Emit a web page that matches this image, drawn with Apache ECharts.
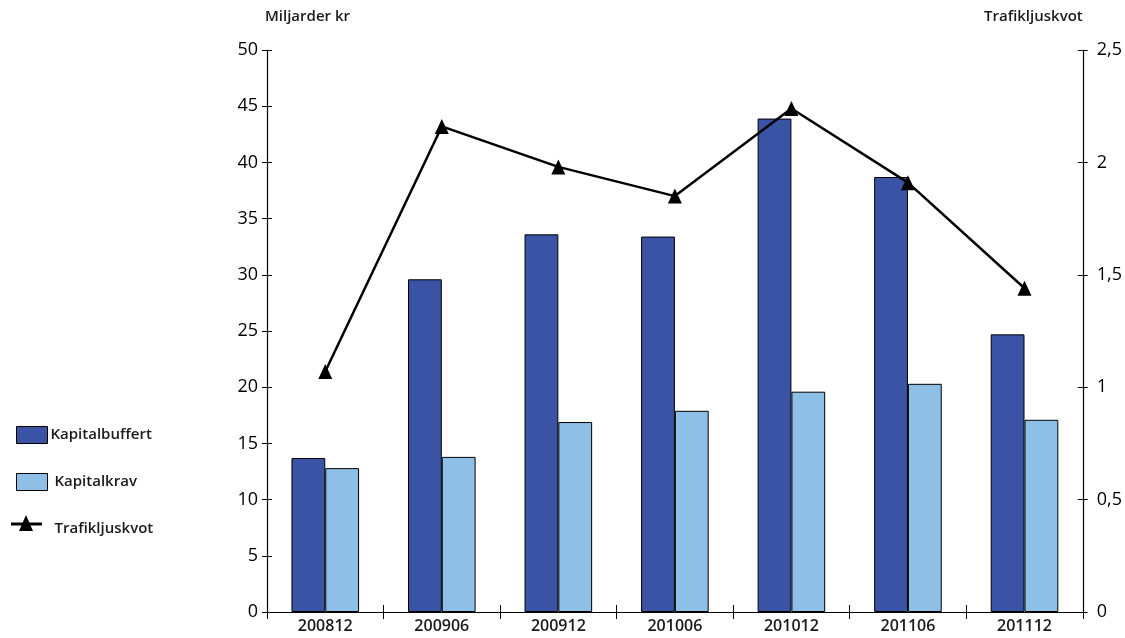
<!DOCTYPE html>
<html>
<head>
<meta charset="utf-8">
<script src="https://cdn.jsdelivr.net/npm/echarts@6/dist/echarts.min.js"></script>
<style>
  html, body { margin: 0; padding: 0; background: #fff; }
  #chart { width: 1125px; height: 638px; }
</style>
</head>
<body>
<div id="chart"></div>
<script>
// Half-year reporting periods
const periods = ['200812', '200906', '200912', '201006', '201012', '201106', '201112'];
// Capital buffer and capital requirement, billions SEK
const kapitalbuffert = [13.7, 29.6, 33.6, 33.4, 43.9, 38.7, 24.7];
const kapitalkrav = [12.8, 13.8, 16.9, 17.9, 19.6, 20.3, 17.1];
// Traffic light ratio (right axis)
const trafikljuskvot = [1.07, 2.16, 1.98, 1.85, 2.24, 1.91, 1.44];

const FONT = 'Open Sans';
const WEIGHT = 600;
const comma = v => String(v).replace('.', ',');
const black = { color: '#000', width: 1.2 };
const hiddenLine = { show: true, lineStyle: { color: 'rgba(0,0,0,0)' } };

// Ticks that cross the axis line: an outward set on the main axis
// plus an inward set on an unlabelled twin axis.
function valueAxis(max, interval, extra) {
  return Object.assign({
    type: 'value', min: 0, max: max, interval: interval, offset: 0,
    axisLine: { show: true, lineStyle: black },
    axisTick: { show: true, length: 5, lineStyle: { color: '#000' } },
    splitLine: { show: false }
  }, extra);
}

const chart = echarts.init(document.getElementById('chart'));
chart.setOption({
  animation: false,
  textStyle: { fontFamily: FONT, color: '#000' },
  legend: {
    orient: 'vertical',
    left: 11,
    top: 421,
    itemGap: 29,
    itemWidth: 31,
    itemHeight: 17,
    icon: 'rect',
    textStyle: { fontFamily: FONT, fontSize: 15, fontWeight: WEIGHT, color: '#1a1a1a', padding: [0, 0, 0, -2] },
    data: [
      { name: 'Kapitalbuffert', itemStyle: { borderColor: '#000', borderWidth: 1 } },
      { name: 'Kapitalkrav', itemStyle: { borderColor: '#000', borderWidth: 1 }, textStyle: { padding: [0, 0, 0, 2] } },
      { name: 'Trafikljuskvot', icon: 'rect', itemStyle: { opacity: 0 }, textStyle: { padding: [0, 0, 0, 2] } }
    ]
  },
  grid: { left: 267, right: 42, top: 50, bottom: 26, containLabel: false },
  xAxis: [
    {
      type: 'category',
      data: periods,
      axisLine: { lineStyle: black },
      axisTick: { show: true, length: 7, lineStyle: { color: '#000' } },
      axisLabel: { fontFamily: FONT, fontSize: 16, fontWeight: WEIGHT, color: '#1a1a1a', margin: 6 }
    },
    {
      type: 'category',
      data: periods,
      position: 'bottom',
      offset: 0,
      axisLine: hiddenLine,
      axisTick: { show: true, inside: true, length: 7, lineStyle: { color: '#000' } },
      axisLabel: { show: false }
    }
  ],
  yAxis: [
    valueAxis(50, 5, {
      name: 'Miljarder kr', nameLocation: 'end', nameGap: 26,
      nameTextStyle: { fontFamily: FONT, fontSize: 15, fontWeight: WEIGHT, color: '#1a1a1a', align: 'left', padding: [0, 0, 0, -2] },
      axisLabel: { fontFamily: FONT, fontSize: 18, color: '#000', margin: 9 }
    }),
    valueAxis(2.5, 0.5, {
      name: 'Trafikljuskvot', nameLocation: 'end', nameGap: 26,
      nameTextStyle: { fontFamily: FONT, fontSize: 15, fontWeight: WEIGHT, color: '#1a1a1a', align: 'right' },
      axisLabel: { fontFamily: FONT, fontSize: 18, color: '#000', margin: 14, formatter: comma }
    }),
    valueAxis(50, 5, {
      position: 'left',
      axisLine: hiddenLine,
      axisTick: { show: true, inside: true, length: 5, lineStyle: { color: '#000' } },
      axisLabel: { show: false }
    }),
    valueAxis(2.5, 0.5, {
      position: 'right',
      axisLine: hiddenLine,
      axisTick: { show: true, inside: true, length: 5, lineStyle: { color: '#000' } },
      axisLabel: { show: false }
    })
  ],
  series: [
    {
      name: 'Kapitalbuffert', type: 'bar', data: kapitalbuffert,
      barGap: '0%', barCategoryGap: '42%',
      itemStyle: { color: '#3A53A4', borderColor: '#000', borderWidth: 1 }
    },
    {
      name: 'Kapitalkrav', type: 'bar', data: kapitalkrav,
      itemStyle: { color: '#8EBFE7', borderColor: '#000', borderWidth: 1 }
    },
    {
      name: 'Trafikljuskvot', type: 'line', yAxisIndex: 1, data: trafikljuskvot,
      symbol: 'triangle', symbolSize: [14, 15],
      lineStyle: { color: '#000', width: 2.5 },
      itemStyle: { color: '#000' }
    },
    // empty series that bind the twin tick axes to the grid
    { type: 'line', xAxisIndex: 1, yAxisIndex: 2, data: [], silent: true },
    { type: 'line', xAxisIndex: 1, yAxisIndex: 3, data: [], silent: true }
  ],
  graphic: [
    // legend key for the ratio line: a short bar with a triangle marker
    { type: 'line', shape: { x1: 11, y1: 524, x2: 42, y2: 524 }, style: { stroke: '#000', lineWidth: 3 } },
    { type: 'polygon', shape: { points: [[26, 515], [19, 531], [33, 531]] }, style: { fill: '#000' } }
  ]
});
</script>
</body>
</html>
